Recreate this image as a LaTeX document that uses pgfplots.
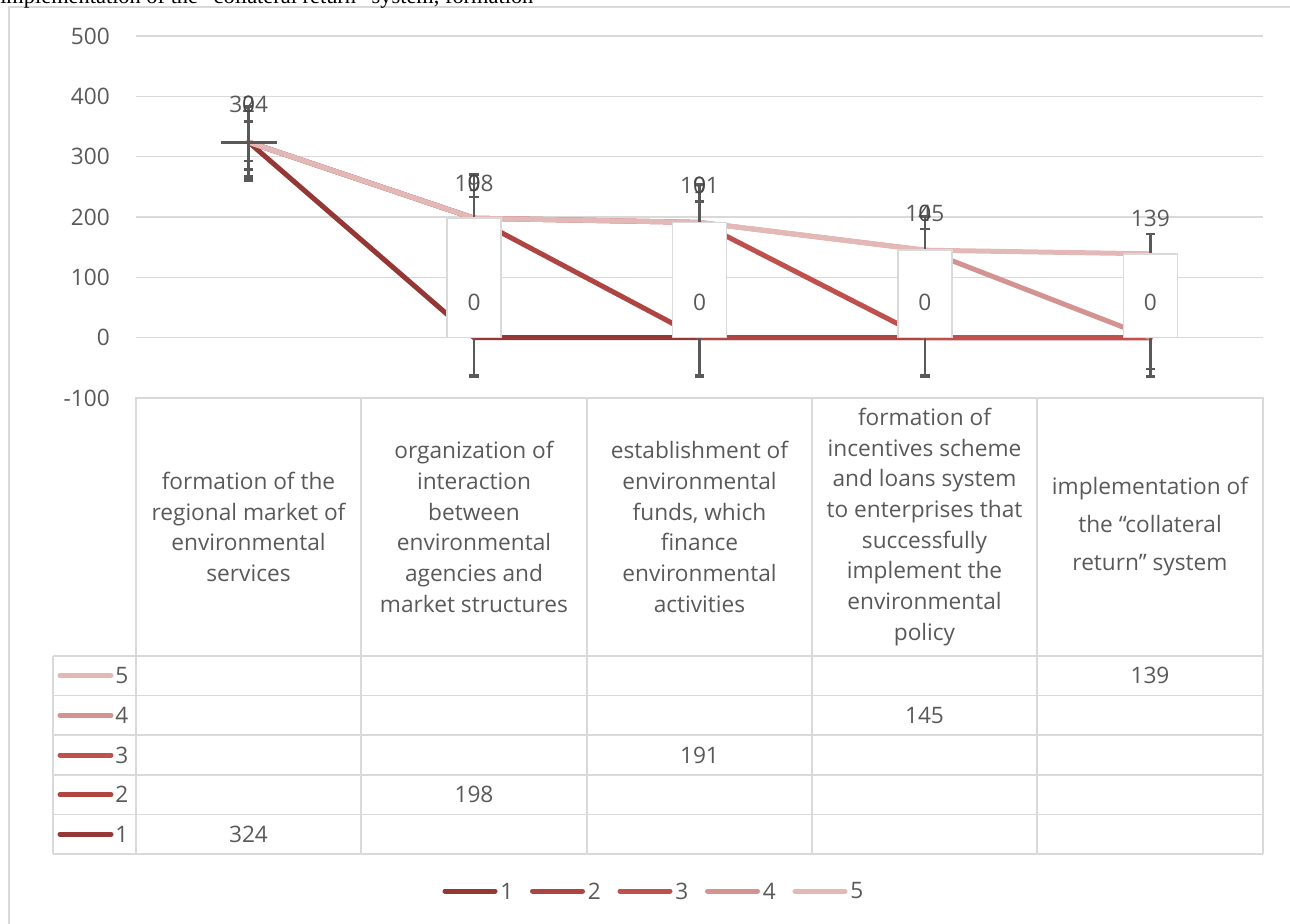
\documentclass[border=0pt]{standalone}
\usepackage{fontspec}
\setmainfont{Open Sans}
\newfontfamily\serif{Liberation Serif}
\usepackage{pgfplots}
\pgfplotsset{compat=1.18}

\definecolor{txt}{HTML}{595959}
\definecolor{grd}{HTML}{D9D9D9}
\definecolor{sA}{HTML}{953735}
\definecolor{sB}{HTML}{AE4542}
\definecolor{sC}{HTML}{C0504D}
\definecolor{sD}{HTML}{D39391}
\definecolor{sE}{HTML}{E3B9B8}
\definecolor{ebar}{HTML}{595959}

\newcommand\lbl{\fontsize{17}{23}\selectfont}

\begin{document}
\begin{tikzpicture}
\begin{axis}[
    at={(102pt,-298.5pt)}, anchor=south west,
    scale only axis, width=845.25pt, height=271.5pt,
    xmin=0.5, xmax=5.5, ymin=-100, ymax=500,
    clip=false,
    axis line style={draw=none},
    xtick=\empty,
    ytick={-100,0,...,500},
    ymajorgrids,
    major grid style={grd, line width=1.1pt},
    major tick length=0pt,
    /pgf/number format/assume math mode=true,
    yticklabel style={font=\lbl, text=txt, anchor=east, inner sep=0pt, xshift=-19.5pt},
    ebars/.style={draw=none, mark=none, forget plot, error bars/.cd, y dir=#1, y explicit,
        error mark=-,
        error bar style={draw=ebar, line width=2pt},
        error mark options={draw=ebar, rotate=90, line width=2pt, mark size=3.5pt}},
]

% stacked series (cumulative values)
\addplot[sA, line width=3.75pt, line join=round, line cap=round] coordinates {(1,324) (2,0) (3,0) (4,0) (5,0)};
\addplot[sB, line width=3.75pt, line join=round, line cap=round] coordinates {(1,324) (2,198) (3,0) (4,0) (5,0)};
\addplot[sC, line width=3.75pt, line join=round, line cap=round] coordinates {(1,324) (2,198) (3,191) (4,0) (5,0)};
\addplot[sD, line width=3.75pt, line join=round, line cap=round] coordinates {(1,324) (2,198) (3,191) (4,145) (5,0)};
\addplot[sE, line width=3.75pt, line join=round, line cap=round] coordinates {(1,324) (2,198) (3,191) (4,145) (5,139)};

% error bars
\addplot[ebars=plus] coordinates {
    (1,324) +- (0,59) (2,198) +- (0,72) (3,191) +- (0,63) (4,145) +- (0,56) (5,139) +- (0,33)};
\addplot[ebars=plus] coordinates {
    (1,324) +- (0,34) (2,198) +- (0,35) (3,191) +- (0,35) (4,145) +- (0,35)};
\addplot[ebars=minus] coordinates {
    (1,324) +- (0,64) (2,0) +- (0,64.5) (3,0) +- (0,64.5) (4,0) +- (0,64.5) (5,0) +- (0,64.5)};
\addplot[ebars=minus] coordinates {
    (1,324) +- (0,31) (1,324) +- (0,45.5) (1,324) +- (0,57) (1,324) +- (0,62)
    (2,0) +- (0,62) (3,0) +- (0,62) (4,0) +- (0,62) (5,0) +- (0,52)};
\addplot[draw=none, mark=none, forget plot, error bars/.cd, x dir=both, x explicit, error mark=none,
    error bar style={draw=ebar, line width=2pt}] coordinates {(1,324) +- (0.124,0)};

% label boxes
\addplot[ybar, bar width=40.5pt, fill=white, draw=grd, line width=1.1pt, forget plot]
    coordinates {(2,198) (3,191) (4,145) (5,139)};

\node[font=\lbl, text=txt] at (axis cs:2,58) {0};
\node[font=\lbl, text=txt] at (axis cs:3,58) {0};
\node[font=\lbl, text=txt] at (axis cs:4,58) {0};
\node[font=\lbl, text=txt] at (axis cs:5,58) {0};
\node[font=\lbl, text=txt] at (axis cs:1,386) {324};
\node[font=\lbl, text=txt] at (axis cs:2,256) {198};
\node[font=\lbl, text=txt] at (axis cs:3,252) {191};
\node[font=\lbl, text=txt] at (axis cs:4,205.6) {145};
\node[font=\lbl, text=txt] at (axis cs:5,198) {139};
\node[font=\lbl, text=txt!80!black] at (axis cs:1,386) {0};
\node[font=\lbl, text=txt!80!black] at (axis cs:2,256) {0};
\node[font=\lbl, text=txt!80!black] at (axis cs:3,252) {0};
\node[font=\lbl, text=txt!80!black] at (axis cs:4,205.6) {0};
\end{axis}

\begin{scope}[x=0.75pt, y=-0.75pt]
% chart frame (runs past the cropped edges)
\draw[grd, line width=1pt] (9,1000) -- (9,7) -- (1300,7);
\node[anchor=base west, inner sep=0pt, font=\serif\fontsize{16.8}{17}\selectfont] at (0,4)
    {implementation of the “collateral return” system, formation};

% data table
\draw[grd, line width=1.1pt] (136,398) rectangle (1263,656);
\foreach \x in {361,587,812,1037}{ \draw[grd, line width=1.1pt] (\x,398) -- (\x,854); }
\foreach \y in {656,695.6,735.2,774.8,814.4,854}{ \draw[grd, line width=1.1pt] (53,\y) -- (1263,\y); }
\foreach \x in {53,136,1263}{ \draw[grd, line width=1.1pt] (\x,656) -- (\x,854); }

\begin{scope}[every node/.style={font=\lbl, text=txt, align=center, inner sep=0pt}]
\node at (248.5,527) {formation of the\\regional market of\\environmental\\services};
\node at (474,527) {organization of\\interaction\\between\\environmental\\agencies and\\market structures};
\node at (699.5,527) {establishment of\\environmental\\funds, which\\finance\\environmental\\activities};
\node at (924.5,527) {formation of\\incentives scheme\\and loans system\\to enterprises that\\successfully\\implement the\\environmental\\policy};
\node at (1150,527) {implementation of\\[5.5pt]the “collateral\\[5.5pt]return” system};

\node at (1150,675.8) {139};
\node at (924.5,715.4) {145};
\node at (699.5,755) {191};
\node at (474,794.6) {198};
\node at (248.5,834.2) {324};
\end{scope}

% legend keys in the table
\foreach \cl/\n/\y in {sE/5/675.8, sD/4/715.4, sC/3/755, sB/2/794.6, sA/1/834.2}{
  \draw[\cl, line width=3.75pt, line cap=round] (60,\y) -- (111,\y);
  \node[font=\lbl, text=txt, anchor=west, inner sep=0pt] at (115,\y) {\n};
}

% bottom legend
\foreach \cl/\n [count=\i from 0] in {sA/1, sB/2, sC/3, sD/4, sE/5}{
  \draw[\cl, line width=3.75pt, line cap=round] (445+87.5*\i,891) -- (495+87.5*\i,891);
  \node[font=\lbl, text=txt, anchor=west, inner sep=0pt] at (500+87.5*\i,891) {\n};
}

\pgfresetboundingbox
\path[use as bounding box] (0,0) rectangle (1290,924);
\end{scope}
\end{tikzpicture}
\end{document}
